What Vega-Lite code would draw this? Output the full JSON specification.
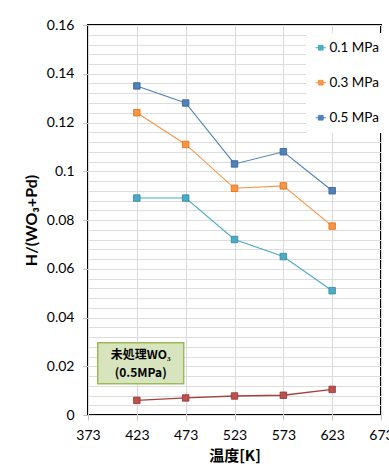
{
  "$schema": "https://vega.github.io/schema/vega-lite/v6.json",
  "width": 293,
  "height": 390,
  "autosize": {"type": "none"},
  "padding": {"left": 88, "top": 25, "right": 8, "bottom": 54},
  "background": "white",
  "config": {
    "view": {"stroke": "#000000", "strokeWidth": 2},
    "font": "Lato"
  },
  "datasets": {
    "series": [
      {"temp": 423, "h": 0.089, "pressure": "0.1 MPa"},
      {"temp": 473, "h": 0.089, "pressure": "0.1 MPa"},
      {"temp": 523, "h": 0.072, "pressure": "0.1 MPa"},
      {"temp": 573, "h": 0.065, "pressure": "0.1 MPa"},
      {"temp": 623, "h": 0.051, "pressure": "0.1 MPa"},
      {"temp": 423, "h": 0.124, "pressure": "0.3 MPa"},
      {"temp": 473, "h": 0.111, "pressure": "0.3 MPa"},
      {"temp": 523, "h": 0.093, "pressure": "0.3 MPa"},
      {"temp": 573, "h": 0.094, "pressure": "0.3 MPa"},
      {"temp": 623, "h": 0.0775, "pressure": "0.3 MPa"},
      {"temp": 423, "h": 0.135, "pressure": "0.5 MPa"},
      {"temp": 473, "h": 0.128, "pressure": "0.5 MPa"},
      {"temp": 523, "h": 0.103, "pressure": "0.5 MPa"},
      {"temp": 573, "h": 0.108, "pressure": "0.5 MPa"},
      {"temp": 623, "h": 0.092, "pressure": "0.5 MPa"}
    ],
    "untreated": [
      {"temp": 423, "h": 0.006},
      {"temp": 473, "h": 0.007},
      {"temp": 523, "h": 0.0078},
      {"temp": 573, "h": 0.0081},
      {"temp": 623, "h": 0.0105}
    ],
    "box": [
      {"x1": 383, "x2": 471, "y1": 0.0128, "y2": 0.0296}
    ],
    "notes": [
      {"tx": 427, "ty": 0.0247, "label": "未処理WO₃"},
      {"tx": 427, "ty": 0.0172, "label": "(0.5MPa)"}
    ]
  },
  "layer": [
    {
      "data": {"name": "series"},
      "mark": {"type": "line", "strokeWidth": 1.1},
      "encoding": {
        "x": {
          "field": "temp", "type": "quantitative",
          "scale": {"domain": [373, 673], "nice": false, "zero": false},
          "axis": {
            "values": [373, 423, 473, 523, 573, 623, 673],
            "tickCount": 100,
            "title": "温度[K]",
            "titleFont": "Noto Sans CJK JP",
            "titleFontWeight": "bold",
            "titleFontSize": 15,
            "titleColor": "#000000",
            "titlePadding": 6,
            "labelFont": "Lato",
            "labelFontSize": 14,
            "labelColor": "#000000",
            "labelPadding": 8,
            "labelOverlap": false,
            "labelFlush": false,
            "domain": false,
            "tickColor": "#BFBFBF",
            "tickSize": 5,
            "gridColor": "#D9D9D9",
            "gridWidth": 1
          }
        },
        "y": {
          "field": "h", "type": "quantitative",
          "scale": {"domain": [0, 0.16], "nice": false},
          "axis": {
            "values": [0, 0.004, 0.008, 0.012, 0.016, 0.02, 0.024, 0.028, 0.032, 0.036, 0.04, 0.044, 0.048, 0.052, 0.056, 0.06, 0.064, 0.068, 0.072, 0.076, 0.08, 0.084, 0.088, 0.092, 0.096, 0.1, 0.104, 0.108, 0.112, 0.116, 0.12, 0.124, 0.128, 0.132, 0.136, 0.14, 0.144, 0.148, 0.152, 0.156, 0.16],
            "tickCount": 100,
            "labelExpr": "abs(round(datum.value/0.02)*0.02 - datum.value) < 0.0001 ? toString(round(datum.value*100)/100) : ''",
            "title": "H/(WO₃+Pd)",
            "titleFont": "Lato",
            "titleFontWeight": "bold",
            "titleFontSize": 16,
            "titleColor": "#000000",
            "titlePadding": 7,
            "labelFont": "Lato",
            "labelFontSize": 14,
            "labelColor": "#000000",
            "labelPadding": 9,
            "labelOverlap": false,
            "labelFlush": false,
            "domain": false,
            "tickColor": "#BFBFBF",
            "tickSize": {"condition": {"test": "abs(round(datum.value/0.02)*0.02 - datum.value) < 0.0001", "value": 5}, "value": 0},
            "gridColor": "#DDDDDD",
            "gridWidth": 1
          }
        },
        "color": {
          "field": "pressure", "type": "nominal",
          "scale": {"domain": ["0.1 MPa", "0.3 MPa", "0.5 MPa"], "range": ["#4BACC6", "#F79646", "#4F81BD"]},
          "legend": {
            "title": null,
            "orient": "none",
            "legendX": 218,
            "legendY": 8,
            "padding": 8,
            "fillColor": "#FFFFFF",
            "labelFont": "Lato",
            "labelFontSize": 13.5,
            "labelColor": "#000000",
            "rowPadding": 20,
            "symbolType": "M-1,0H1M-0.45,-0.45H0.45V0.45H-0.45Z",
            "symbolSize": 110,
            "symbolStrokeWidth": 1,
            "labelOffset": 2,
            "encode": {
              "symbols": {
                "update": {
                  "fill": {"scale": "color", "field": "value"},
                  "stroke": {"scale": "color", "field": "value"},
                  "opacity": {"value": 1}
                }
              }
            }
          }
        }
      }
    },
    {
      "data": {"name": "series"},
      "mark": {"type": "point", "shape": "square", "filled": true, "size": 42, "opacity": 1, "strokeWidth": 0.8},
      "encoding": {
        "x": {"field": "temp", "type": "quantitative"},
        "y": {"field": "h", "type": "quantitative"},
        "color": {"field": "pressure", "type": "nominal", "legend": null},
        "stroke": {"field": "pressure", "type": "nominal", "scale": {"domain": ["0.1 MPa", "0.3 MPa", "0.5 MPa"], "range": ["#31859C", "#E46C0A", "#385D8A"]}, "legend": null}
      }
    },
    {
      "data": {"name": "untreated"},
      "mark": {"type": "line", "color": "#A5403D", "strokeWidth": 1.3},
      "encoding": {
        "x": {"field": "temp", "type": "quantitative"},
        "y": {"field": "h", "type": "quantitative"}
      }
    },
    {
      "data": {"name": "untreated"},
      "mark": {"type": "point", "shape": "square", "filled": true, "size": 42, "opacity": 1, "fill": "#C0504D", "stroke": "#8C3836", "strokeWidth": 0.8},
      "encoding": {
        "x": {"field": "temp", "type": "quantitative"},
        "y": {"field": "h", "type": "quantitative"}
      }
    },
    {
      "data": {"name": "box"},
      "mark": {"type": "rect", "fill": "#D7E4BD", "stroke": "#9BBB59", "strokeWidth": 1.5},
      "encoding": {
        "x": {"field": "x1", "type": "quantitative"},
        "x2": {"field": "x2"},
        "y": {"field": "y1", "type": "quantitative"},
        "y2": {"field": "y2"}
      }
    },
    {
      "data": {"name": "notes"},
      "mark": {"type": "text", "font": "Noto Sans CJK JP", "fontWeight": "bold", "fontSize": 12, "color": "#000000", "align": "center", "baseline": "middle"},
      "encoding": {
        "x": {"field": "tx", "type": "quantitative"},
        "y": {"field": "ty", "type": "quantitative"},
        "text": {"field": "label"}
      }
    }
  ]
}
